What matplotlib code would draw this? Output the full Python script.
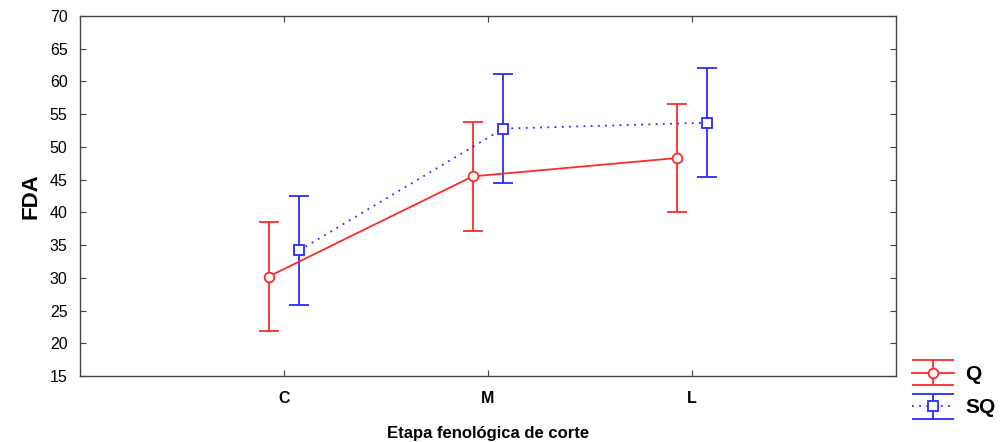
import numpy as np
import matplotlib
matplotlib.use('Agg')
import matplotlib.pyplot as plt
from matplotlib.legend_handler import HandlerErrorbar

plt.rcParams['font.family'] = ['Liberation Sans', 'DejaVu Sans']

# datos
etapas = ['C', 'M', 'L']
q_media = [30.2, 45.5, 48.3]
q_error = [8.3, 8.3, 8.3]
sq_media = [34.2, 52.8, 53.7]
sq_error = [8.3, 8.3, 8.3]

x = np.arange(len(etapas))
desplaza = 0.075


# en la leyenda los topes ocupan todo el ancho
class TopesAnchos(HandlerErrorbar):
    def create_artists(self, *args, **kw):
        arts = super().create_artists(*args, **kw)
        for a in arts:
            if isinstance(a, matplotlib.lines.Line2D) and a.get_marker() == '_':
                a.set_markersize(30)
        return arts


fig = plt.figure(figsize=(10.03, 4.42), dpi=100)
ax = fig.add_axes([0.0798, 0.1493, 0.8135, 0.8145])

rojo = '#ff2a2a'
azul = '#2a2aff'

ax.errorbar(x - desplaza, q_media, yerr=q_error, color=rojo, lw=1.3,
            marker='o', ms=7, mfc='white', mec=rojo, mew=1.3,
            capsize=7.2, capthick=1.8, elinewidth=1.3, label='Q')
ax.errorbar(x + desplaza, sq_media, yerr=sq_error, color=azul, lw=1.3,
            ls=(0, (1, 3)), marker='s', ms=6.5, mfc='white', mec=azul, mew=1.3,
            capsize=7.2, capthick=1.8, elinewidth=1.3, label='SQ')

ax.set_xlim(-1, 3)
ax.set_ylim(15, 70)
ax.set_yticks(np.arange(15, 71, 5))
ax.set_xticks(x)
ax.set_xticklabels(etapas, fontweight='bold', fontsize=11.5)
ax.tick_params(axis='both', direction='in', length=4, color='#444444',
               top=True, right=True)
ax.tick_params(axis='y', labelsize=11.5, pad=9)
ax.tick_params(axis='x', pad=11)
for s in ax.spines.values():
    s.set_color('#444444')
    s.set_linewidth(1.0)

ax.set_ylabel('FDA', fontsize=16, fontweight='bold', labelpad=6)
ax.set_xlabel('Etapa fenológica de corte', fontsize=12, fontweight='bold', labelpad=14)

leg = ax.legend(loc='upper left', bbox_to_anchor=(0.9093, 0.174),
                bbox_transform=fig.transFigure, frameon=False,
                prop={'weight': 'bold', 'size': 15}, handlelength=2.0,
                labelspacing=0.69, handletextpad=0.55, borderpad=0,
                borderaxespad=0,
                handler_map={type(ax.containers[0]): TopesAnchos(yerr_size=0.6)})

fig.savefig('out.png', dpi=100)
